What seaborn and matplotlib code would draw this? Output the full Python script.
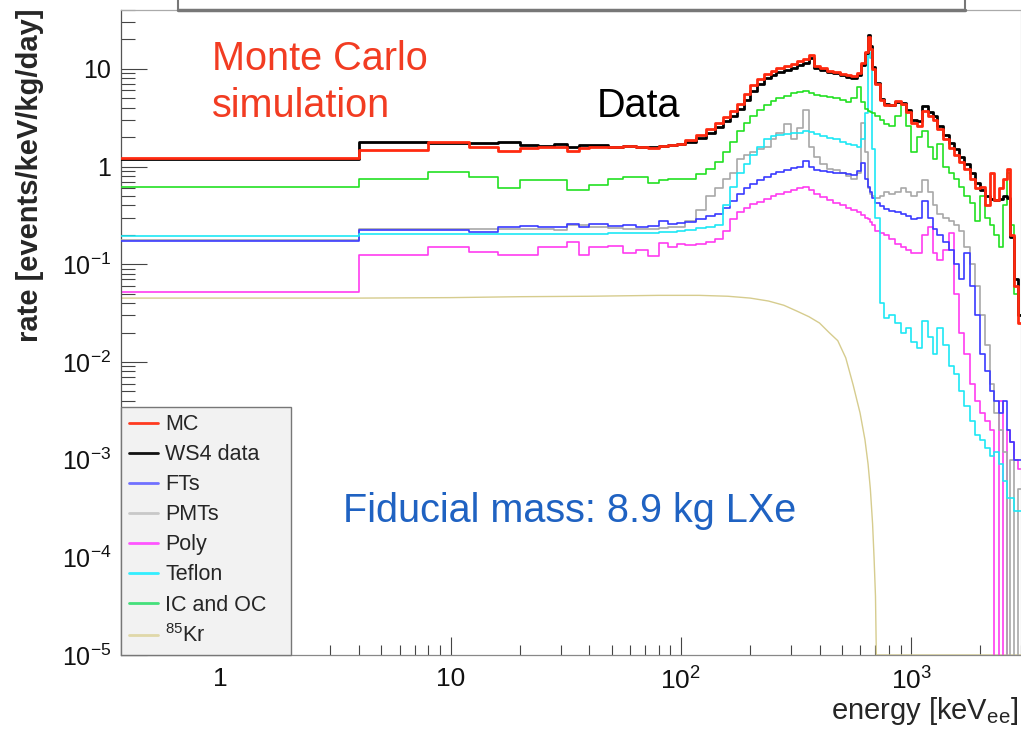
import numpy as np
import matplotlib
matplotlib.use("Agg")
import matplotlib.pyplot as plt
import seaborn as sns
from matplotlib.lines import Line2D
from matplotlib.ticker import LogLocator, NullFormatter

# bin edges [keV]; each series gives one value per bin (len(energy) - 1)
energy = [0.37, 4, 8, 12, 16, 20, 24, 28, 32, 36,
          40, 48, 56, 64, 72, 80, 88, 96, 104, 116,
          128, 140, 152, 164, 176, 188, 200, 215, 230, 245,
          260, 280, 300, 320, 340, 360, 380, 400, 430, 460,
          490, 520, 550, 580, 605, 630, 650, 662, 675, 700,
          730, 760, 800, 850, 900, 950, 1000, 1060, 1120, 1180,
          1240, 1300, 1380, 1460, 1540, 1620, 1700, 1800, 1900, 2000,
          2100, 2200, 2300, 2400, 2500, 2600, 2700, 2800, 2900, 3000]

mc = [1.21, 1.47, 1.79, 1.59, 1.45, 1.55, 1.57, 1.58, 1.44, 1.55,
      1.57, 1.6, 1.62, 1.58, 1.55, 1.62, 1.68, 1.72, 1.85, 2.1,
      2.4, 2.8, 3.2, 3.7, 4.4, 5.5, 6.8, 7.8, 8.9, 9.6,
      10.2, 10.7, 11.2, 12.0, 12.6, 13.8, 10.8, 10.2, 9.6, 9.2,
      8.9, 8.6, 8.5, 9.0, 11.5, 15.0, 21.0, 16.0, 10.0, 7.0,
      4.8, 4.3, 4.3, 4.7, 4.4, 3.6, 2.8, 2.6, 3.7, 3.3,
      3.0, 2.4, 1.9, 1.55, 1.3, 1.12, 0.95, 0.75, 0.6, 0.62,
      0.4, 0.85, 0.45, 0.6, 0.75, 0.95, 0.2, 0.06, 0.025]

ws4_data = [1.2, 1.8, 1.73, 1.76, 1.8, 1.65, 1.62, 1.7, 1.6, 1.68,
            1.65, 1.6, 1.62, 1.6, 1.58, 1.62, 1.65, 1.7, 1.78, 1.95,
            2.2, 2.55, 2.9, 3.3, 3.9, 4.8, 5.9, 7.0, 8.0, 8.7,
            9.3, 9.8, 10.3, 11.0, 11.6, 12.8, 10.3, 9.8, 9.3, 9.0,
            8.6, 8.3, 8.1, 8.6, 11.0, 14.5, 22.0, 17.0, 10.5, 7.2,
            4.9, 4.4, 4.3, 4.6, 4.5, 3.8, 3.0, 2.9, 4.2, 3.6,
            3.3, 2.6, 2.1, 1.75, 1.5, 1.25, 1.05, 0.85, 0.68, 0.58,
            0.5, 0.47, 0.45, 0.46, 0.5, 0.48, 0.19, 0.07, 0.03]

fts = [0.173, 0.224, 0.224, 0.215, 0.24, 0.246, 0.24, 0.24, 0.258, 0.24,
       0.255, 0.245, 0.25, 0.24, 0.245, 0.28, 0.26, 0.265, 0.27, 0.29,
       0.31, 0.33, 0.38, 0.44, 0.52, 0.6, 0.66, 0.72, 0.78, 0.83,
       0.88, 0.92, 0.96, 1.0, 1.15, 1.0, 0.92, 0.9, 0.88, 0.86,
       0.85, 0.84, 0.82, 0.9, 1.08, 0.75, 0.62, 0.55, 0.48, 0.42,
       0.39, 0.37, 0.35, 0.34, 0.33, 0.31, 0.29, 0.3, 0.44, 0.3,
       0.23, 0.2, 0.17, 0.14, 0.1, 0.07, 0.13, 0.06, 0.03, 0.012,
       0.008, 0.005, 0.004, 0.003, 0.004, 0.002, 0.0015, 0.001, 0.001]

pmts = [0.175, 0.23, 0.23, 0.23, 0.232, 0.23, 0.23, 0.225, 0.25, 0.25,
        0.24, 0.235, 0.23, 0.23, 0.23, 0.235, 0.24, 0.24, 0.28, 0.36,
        0.5, 0.6, 0.75, 0.85, 1.2, 1.3, 1.4, 1.5, 1.6, 1.9,
        2.2, 2.7, 1.9, 2.5, 3.8, 1.6, 1.25, 1.05, 0.95, 0.92,
        0.85, 0.8, 0.75, 0.85, 2.8, 1.4, 0.6, 0.52, 0.5, 0.48,
        0.5, 0.55, 0.52, 0.55, 0.6, 0.55, 0.5, 0.55, 0.72, 0.55,
        0.4, 0.33, 0.3, 0.28, 0.25, 0.22, 0.15, 0.1, 0.06, 0.03,
        0.015, 0.006, 0.003, 0.002, 0.0012, 1e-6, 0.001, 1e-6, 0.0005]

poly = [0.052, 0.124, 0.151, 0.134, 0.124, 0.124, 0.151, 0.151, 0.17, 0.124,
        0.15, 0.155, 0.13, 0.14, 0.12, 0.165, 0.15, 0.16, 0.157, 0.16,
        0.17, 0.18, 0.22, 0.29, 0.34, 0.38, 0.41, 0.43, 0.47, 0.5,
        0.52, 0.55, 0.58, 0.6, 0.62, 0.58, 0.52, 0.49, 0.45, 0.42,
        0.4, 0.38, 0.36, 0.34, 0.32, 0.3, 0.29, 0.27, 0.25, 0.22,
        0.21, 0.2, 0.18, 0.16, 0.15, 0.14, 0.13, 0.13, 0.2, 0.24,
        0.13, 0.11, 0.14, 0.21, 0.05, 0.02, 0.012, 0.006, 0.004, 0.003,
        0.0025, 0.002, 1e-6, 0.004, 1e-6, 0.002, 0.0015, 0.001, 0.0008]

teflon = [0.195, 0.205, 0.205, 0.205, 0.205, 0.205, 0.205, 0.205, 0.205, 0.205,
          0.205, 0.21, 0.21, 0.21, 0.21, 0.215, 0.215, 0.22, 0.225, 0.235,
          0.24, 0.25, 0.4, 0.62, 0.85, 1.05, 1.3, 1.6, 1.9, 2.05,
          2.1, 2.15, 2.2, 2.2, 2.3, 2.25, 2.15, 2.05, 1.95, 1.9,
          1.8, 1.72, 1.65, 1.6, 1.9, 3.5, 15.0, 13.0, 1.5, 0.3,
          0.04, 0.028, 0.03, 0.025, 0.02, 0.022, 0.016, 0.014, 0.026, 0.018,
          0.012, 0.022, 0.015, 0.009, 0.0075, 0.005, 0.0035, 0.0025, 0.0018, 0.0016,
          0.0013, 0.0011, 0.0012, 0.0009, 0.0006, 0.0004, 0.0004, 0.0003, 0.0003]

ic_oc = [0.62, 0.745, 0.885, 0.79, 0.6, 0.73, 0.72, 0.72, 0.575, 0.58,
         0.65, 0.74, 0.79, 0.78, 0.68, 0.72, 0.75, 0.74, 0.74, 0.84,
         0.95, 1.12, 1.4, 1.8, 2.3, 2.8, 3.3, 3.8, 4.3, 4.7,
         5.0, 5.3, 5.6, 5.8, 5.9, 5.6, 5.4, 5.3, 5.1, 5.0,
         4.8, 4.6, 5.0, 6.5, 4.6, 3.9, 3.7, 3.6, 3.5, 3.3,
         3.0, 2.7, 2.6, 3.3, 4.3, 2.6, 1.4, 2.0, 2.3, 1.6,
         1.2, 1.7, 1.0, 0.85, 0.75, 0.62, 0.5, 0.42, 0.28, 0.5,
         0.3, 0.25, 0.2, 0.15, 0.4, 0.85, 0.25, 0.05, 0.03]

# 85Kr beta spectrum (smooth, ends near 687 keV)
kr_energy = [0.37, 4, 10, 20, 40, 80, 120, 160, 200, 240, 280, 320, 360, 400,
             440, 480, 520, 560, 600, 630, 650, 665, 680, 690, 700, 706, 3000]
kr_rate = [0.045, 0.045, 0.0455, 0.0465, 0.047, 0.048, 0.048, 0.047, 0.045, 0.042,
           0.038, 0.033, 0.029, 0.025, 0.02, 0.0165, 0.011, 0.0058, 0.003, 0.0016,
           0.0009, 0.0005, 0.00022, 0.0001, 4e-5, 1e-5, 1e-5]

series = [
    # label, values, colour, linewidth, zorder
    ("MC", mc, "#ff2a10", 2.0, 9),
    ("WS4 data", ws4_data, "#000000", 2.0, 8),
    ("FTs", fts, "#3a3aff", 1.2, 4),
    ("PMTs", pmts, "#a8a8a8", 1.2, 3),
    ("Poly", poly, "#ff3cf0", 1.2, 2),
    ("Teflon", teflon, "#1ee8f5", 1.2, 5),
    ("IC and OC", ic_oc, "#22e022", 1.2, 6),
]
legend_colors = {"MC": "#ff3a20", "WS4 data": "#111111", "FTs": "#7070ff",
                 "PMTs": "#c8c8c8", "Poly": "#ff55ff", "Teflon": "#33eeff",
                 "IC and OC": "#44e07a", "Kr": "#e0d8a8"}

sns.set_style("ticks")
plt.rcParams["font.family"] = ["Liberation Sans", "DejaVu Sans"]
plt.rcParams["mathtext.fontset"] = "custom"
plt.rcParams["mathtext.rm"] = "Liberation Sans"
plt.rcParams["mathtext.it"] = "Liberation Sans:italic"
plt.rcParams["mathtext.bf"] = "Liberation Sans:bold"

W, H = 1021, 729
fig = plt.figure(figsize=(W / 100, H / 100), dpi=100)
ax = fig.add_axes([121 / W, 1 - 655 / H, 900 / W, 645 / H])

sns.lineplot(x=kr_energy, y=kr_rate, ax=ax, color="#d6cc8e", lw=1.0,
             zorder=1, estimator=None, sort=False, legend=False)
for label, vals, color, lw, z in series:
    ys = list(vals) + [vals[-1]]
    sns.lineplot(x=energy, y=ys, ax=ax, color=color, lw=lw, zorder=z,
                 drawstyle="steps-post", estimator=None, sort=False,
                 legend=False)

ax.set_xscale("log")
ax.set_yscale("log")
ax.set_xlim(0.37, 3000)
ax.set_ylim(1e-5, 40)

ax.set_xticks([1, 10, 100, 1000])
ax.set_xticklabels(["1", "10", r"$10^{2}$", r"$10^{3}$"])
ax.set_yticks([1e-5, 1e-4, 1e-3, 1e-2, 1e-1, 1, 10])
ax.set_yticklabels([r"$10^{-5}$", r"$10^{-4}$", r"$10^{-3}$", r"$10^{-2}$",
                    r"$10^{-1}$", "1", "10"])
ax.xaxis.set_minor_locator(LogLocator(base=10, subs=np.arange(2, 10), numticks=20))
ax.yaxis.set_minor_locator(LogLocator(base=10, subs=np.arange(2, 10), numticks=20))
ax.xaxis.set_minor_formatter(NullFormatter())
ax.yaxis.set_minor_formatter(NullFormatter())
ax.tick_params(axis="both", which="both", direction="in", colors="#444444",
               labelcolor="#111111", width=0.8)
ax.tick_params(axis="y", which="major", length=19, pad=7, labelsize=18)
ax.tick_params(axis="y", which="minor", length=10)
ax.tick_params(axis="x", which="major", length=13, pad=9, labelsize=19)
ax.tick_params(axis="x", which="minor", length=7)
ax.tick_params(top=False, right=False, which="both")

ax.spines["left"].set_color("#555555")
ax.spines["bottom"].set_color("#888888")
ax.spines["top"].set_color("#aaaaaa")
ax.spines["right"].set_color("#cccccc")
for s in ax.spines.values():
    s.set_linewidth(0.9)

# legend
handles = [Line2D([], [], color=legend_colors[lab], lw=2) for lab, *_ in series]
labels = [lab for lab, *_ in series]
handles.append(Line2D([], [], color=legend_colors["Kr"], lw=2))
labels.append(r"$^{85}$Kr")
leg = ax.legend(handles, labels, loc="lower left",
                bbox_to_anchor=(0, 0, 170 / 900, 0.37), mode="expand",
                borderaxespad=0, fontsize=15.5, handlelength=1.35,
                handletextpad=0.35, labelspacing=0.42, borderpad=0.35,
                fancybox=False, frameon=True)
leg.get_frame().set_facecolor("#f2f2f2")
leg.get_frame().set_edgecolor("#777777")
leg.get_frame().set_linewidth(1.0)
leg.get_frame().set_alpha(1)
leg.set_zorder(20)

# annotations
fig.text(212 / W, 1 - 70 / H, "Monte Carlo", color="#f23c22", fontsize=28.5,
         va="baseline", ha="left")
fig.text(212 / W, 1 - 117 / H, "simulation", color="#f23c22", fontsize=28.5,
         va="baseline", ha="left")
fig.text(597 / W, 1 - 117 / H, "Data", color="#000000", fontsize=28.5,
         va="baseline", ha="left")
fig.text(343 / W, 1 - 522 / H, "Fiducial mass: 8.9 kg LXe", color="#1f62c2",
         fontsize=28.5, va="baseline", ha="left")

fig.text(30 / W, 1 - 175 / H, "rate [events/keV/kg/day]", rotation=90,
         fontsize=21, fontweight="bold", ha="center", va="center")
fig.text(1018 / W, 1 - 719 / H, r"energy [keV$_{\mathrm{ee}}$]", fontsize=21,
         ha="right", va="baseline")

# cut-off title box edge along the top of the frame
fig.add_artist(Line2D([178 / W, 965 / W], [1 - 10 / H, 1 - 10 / H],
                      color="#777777", lw=2.5))
fig.add_artist(Line2D([178 / W, 178 / W], [1 - 10 / H, 1.0], color="#777777", lw=1.5))
fig.add_artist(Line2D([965 / W, 965 / W], [1 - 10 / H, 1.0], color="#777777", lw=1.5))

fig.savefig("out.png", dpi=100)
